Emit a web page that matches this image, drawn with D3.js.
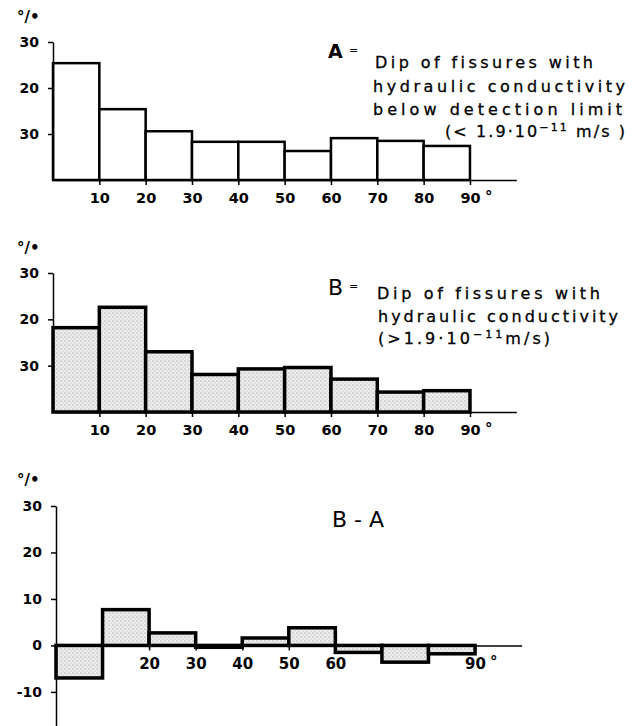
<!DOCTYPE html>
<html>
<head>
<meta charset="utf-8">
<script src="https://cdn.jsdelivr.net/npm/d3@7"></script>
<style>
  body { margin: 0; background: #fff; }
  svg { display: block; }
</style>
</head>
<body>
<svg></svg>
<script>
// dip classes (lower edge, degrees)
const bins = [0, 10, 20, 30, 40, 50, 60, 70, 80];
// A: below detection limit, B: above, and B - A (percent)
const dipA = [25.4, 15.4, 10.6, 8.3, 8.3, 6.3, 9.1, 8.5, 7.4];
const dipB = [18.2, 22.6, 13.0, 8.1, 9.3, 9.6, 7.1, 4.3, 4.6];
const dipDiff = [-7.0, 7.7, 2.7, -0.4, 1.6, 3.8, -1.5, -3.6, -1.8];

const xTicks = [10, 20, 30, 40, 50, 60, 70, 80, 90];
const xTicksDiffLabelled = [20, 30, 40, 50, 60, 90];
const yTicksAB = [30, 20, 10];
const yLabelsAB = ['30', '20', '30'];   // as printed in the original
const yTicksDiff = [30, 20, 10, 0, -10];

const width = 634, height = 726;
const font = 'DejaVu Sans';

const svg = d3.select('svg')
    .attr('width', width)
    .attr('height', height);

// stipple fill for B and B-A
const pat = svg.append('defs').append('pattern')
    .attr('id', 'stipple')
    .attr('patternUnits', 'userSpaceOnUse')
    .attr('width', 4).attr('height', 4);
pat.append('rect').attr('width', 4).attr('height', 4).attr('fill', '#ececec');
pat.append('circle').attr('cx', 1).attr('cy', 1).attr('r', 0.6).attr('fill', '#8a8a8a');
pat.append('circle').attr('cx', 3).attr('cy', 3).attr('r', 0.5).attr('fill', '#b0b0b0');

// stretch a text line to a given width with letter-spacing
function fitText(t, w) {
    const n = t.text().length;
    const len = t.node().getComputedTextLength();
    t.attr('letter-spacing', ((w - len) / (n - 1)).toFixed(2));
}

function percentSign(y) {
    svg.append('text')
        .attr('x', 17).attr('y', y)
        .attr('font-family', font).attr('font-weight', 'bold').attr('font-size', 15)
        .text('°/•');
}

function drawPanel(p) {
    const xScale = d3.scaleLinear().domain([0, 100]).range(p.xRange);
    const yScale = d3.scaleLinear().domain(p.yDomain).range(p.yRange);

    // bars
    svg.append('g').selectAll('rect')
        .data(bins.map((b, i) => ({b: b, v: p.values[i]})))
        .join('rect')
        .attr('x', d => xScale(d.b))
        .attr('width', d => xScale(d.b + 10) - xScale(d.b))
        .attr('y', d => yScale(Math.max(d.v, 0)))
        .attr('height', d => Math.abs(yScale(d.v) - yScale(0)))
        .attr('fill', p.fill)
        .attr('stroke', '#000')
        .attr('stroke-width', p.stroke);

    // x axis
    const gx = svg.append('g')
        .attr('transform', 'translate(0,' + yScale(0) + ')')
        .call(d3.axisBottom(xScale)
            .tickValues(xTicks)
            .tickSize(5)
            .tickSizeOuter(0)
            .tickPadding(8)
            .tickFormat(d => p.xLabels.includes(d) ? d : ''));
    gx.selectAll('text').attr('font-family', font).attr('font-weight', 'bold')
        .attr('font-size', p.xFont).attr('fill', '#000');
    gx.selectAll('line, path').attr('stroke', '#000').attr('stroke-width', 1.5);
    svg.append('text')
        .attr('x', xScale(90) + 15).attr('y', yScale(0) + 22)
        .attr('font-family', font).attr('font-weight', 'bold').attr('font-size', 15)
        .text('°');

    // y axis
    const gy = svg.append('g')
        .attr('transform', 'translate(' + p.xRange[0] + ',0)')
        .call(d3.axisLeft(yScale)
            .tickValues(p.yTicks)
            .tickSize(5)
            .tickSizeOuter(0)
            .tickPadding(9)
            .tickFormat((d, i) => p.yLabels[i]));
    gy.selectAll('text').attr('font-family', font).attr('font-weight', 'bold')
        .attr('font-size', 14).attr('fill', '#000');
    gy.selectAll('line, path').attr('stroke', '#000').attr('stroke-width', 1.5);
}

// ---- A ----
percentSign(22);
drawPanel({
    values: dipA, fill: '#fff', stroke: 2.5,
    xRange: [53, 516.3], yDomain: [0, 30], yRange: [180, 42],
    yTicks: yTicksAB, yLabels: yLabelsAB, xLabels: xTicks, xFont: 14.5
});

// ---- B ----
percentSign(253);
drawPanel({
    values: dipB, fill: 'url(#stipple)', stroke: 3.5,
    xRange: [53, 516.3], yDomain: [0, 30], yRange: [412, 273],
    yTicks: yTicksAB, yLabels: yLabelsAB, xLabels: xTicks, xFont: 14.5
});

// ---- B - A ----
percentSign(485);
drawPanel({
    values: dipDiff, fill: 'url(#stipple)', stroke: 3.5,
    xRange: [56, 521.6], yDomain: [-17.4, 30], yRange: [726.3, 506],
    yTicks: yTicksDiff, yLabels: yTicksDiff.map(String), xLabels: xTicksDiffLabelled, xFont: 15
});

// ---- legends ----
function addLine(x, y, w, str, sup, rest) {
    const t = svg.append('text')
        .attr('x', x).attr('y', y)
        .attr('font-family', font).attr('font-size', 16).attr('fill', '#000')
        .attr('stroke', '#000').attr('stroke-width', 0.3);
    if (sup) {
        t.append('tspan').text(str);
        t.append('tspan').attr('dy', -6).attr('font-size', 11).text(sup);
        t.append('tspan').attr('dy', 6).text(rest);
    } else {
        t.text(str);
    }
    fitText(t, w);
}

svg.append('text').attr('x', 328).attr('y', 58)
    .attr('font-family', font).attr('font-weight', 'bold').attr('font-size', 19).text('A');
svg.append('text').attr('x', 349).attr('y', 54)
    .attr('font-family', font).attr('font-size', 11).text('=');
addLine(375, 68, 218, 'Dip of fissures with');
addLine(373, 92, 252, 'hydraulic conductivity');
addLine(373, 115, 249, 'below detection limit');
addLine(445, 137, 180, '(< 1.9·10', '−11', ' m/s )');

svg.append('text').attr('x', 328).attr('y', 295)
    .attr('font-family', font).attr('font-size', 22).text('B');
svg.append('text').attr('x', 349).attr('y', 290)
    .attr('font-family', font).attr('font-size', 11).text('=');
addLine(377, 299, 223, 'Dip of fissures with');
addLine(378, 322, 240, 'hydraulic conductivity');
addLine(378, 344, 172, '(>1.9·10', '−11', 'm/s)');

svg.append('text').attr('x', 332).attr('y', 527)
    .attr('font-family', font).attr('font-size', 22).text('B - A');
</script>
</body>
</html>
